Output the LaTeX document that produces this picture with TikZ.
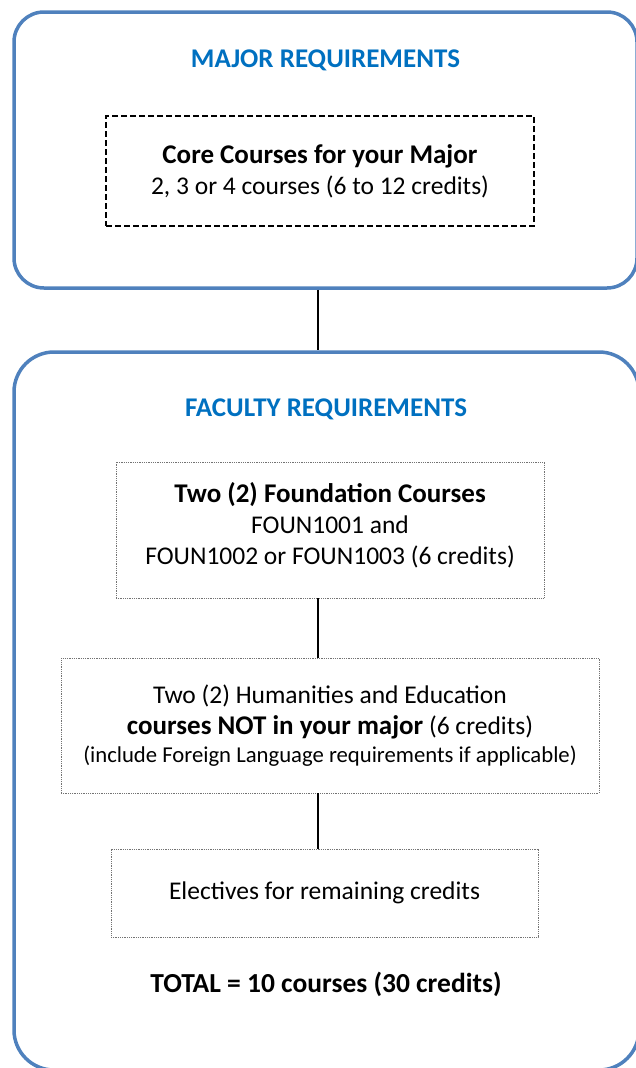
\documentclass[tikz,border=0pt]{standalone}
\usepackage{fontspec}
\setmainfont{Carlito}
\definecolor{boxblue}{HTML}{4F81BD}
\definecolor{titleblue}{HTML}{0070C0}
\newcommand{\bigb}[1]{{\fontsize{27}{31}\selectfont\bfseries #1}}
\tikzset{
  groupbox/.style={draw=boxblue, line width=3.5pt, rectangle, inner sep=0pt},
  grouptitle/.style={text=titleblue, font=\fontsize{27}{31}\selectfont\bfseries, inner sep=0pt},
  dashbox/.style={draw=black, line width=2pt, dash pattern=on 6pt off 3pt, rectangle, inner sep=0pt, align=center, font=\fontsize{25.5}{31}\selectfont},
  dotbox/.style={draw=black!55, line width=0.9pt, dash pattern=on 1pt off 0.8pt, rectangle, inner sep=0pt, align=center, font=\fontsize{25.5}{31}\selectfont},
  link/.style={draw=black, line width=2.8pt},
  totaltext/.style={font=\fontsize{27.5}{31}\selectfont\bfseries, inner sep=0pt}
}
\begin{document}
\begin{tikzpicture}[x=1pt, y=-1pt]
\useasboundingbox (0,0) rectangle (636,1068);
% major requirements group
\node[groupbox, rounded corners=30pt, minimum width=623pt, minimum height=276pt] (major) at (325.5,150) {};
\node[grouptitle] (majortitle) at (325.5,60) {MAJOR REQUIREMENTS};
\node[dashbox, minimum width=428pt, minimum height=110pt] (core) at (320,171) {\bigb{Core Courses for your Major}\\2, 3 or 4 courses (6 to 12 credits)};
% faculty requirements group
\node[groupbox, rounded corners=40pt, minimum width=625pt, minimum height=718pt] (faculty) at (326.5,711) {};
\node[grouptitle] (facultytitle) at (326,409.5) {FACULTY REQUIREMENTS};
\node[dotbox, minimum width=428pt, minimum height=136pt] (found) at (330,530) {\bigb{Two (2) Foundation Courses}\\FOUN1001 and\\FOUN1002 or FOUN1003 (6 credits)\\[-28pt]\strut};
\node[dotbox, minimum width=538pt, minimum height=135pt] (human) at (330,725.5) {Two (2) Humanities and Education\\\bigb{courses NOT in your major} (6 credits)\\[-3pt]{\fontsize{22.7}{28}\selectfont (include Foreign Language requirements if applicable)}};
\node[dotbox, minimum width=427pt, minimum height=88pt] (elect) at (324.5,893) {\raisebox{-2pt}{Electives for remaining credits}};
\node[totaltext] (total) at (326,984) {TOTAL = 10 courses (30 credits)};
% connectors
\coordinate (cx) at (318,0);
\draw[link] (major.south -| cx) -- (faculty.north -| cx);
\draw[link] (found.south -| cx) -- (human.north -| cx);
\draw[link] (human.south -| cx) -- (elect.north -| cx);
\end{tikzpicture}
\end{document}
